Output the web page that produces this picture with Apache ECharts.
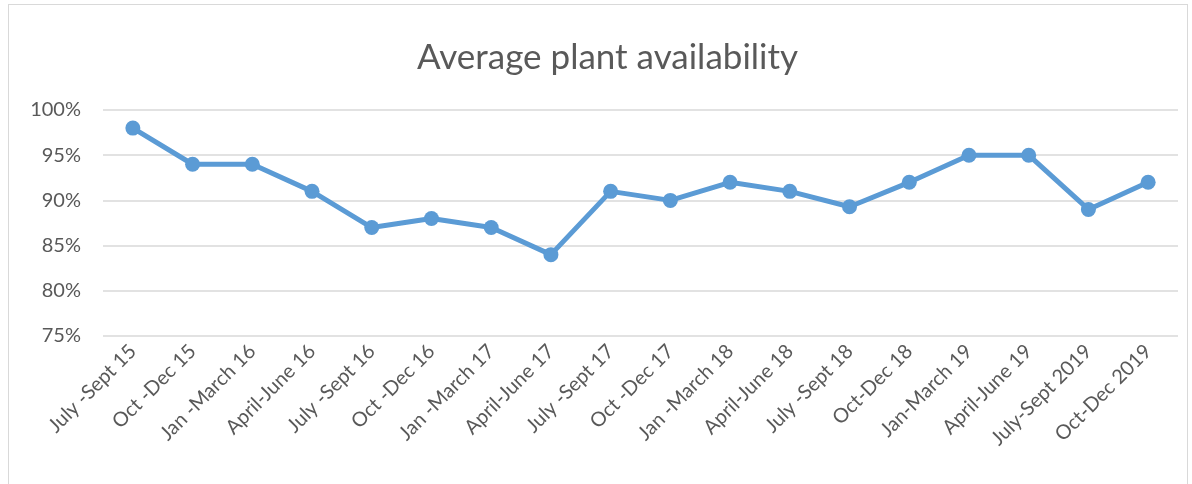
<!DOCTYPE html>
<html>
<head>
<meta charset="utf-8">
<script src="https://cdn.jsdelivr.net/npm/echarts@6/dist/echarts.min.js"></script>
<style>
  html, body { margin: 0; padding: 0; background: #fff; }
  #main { position: absolute; left: 8px; top: 4px; width: 1180px; height: 490px; border: 1px solid #d9d9d9; box-sizing: border-box; }
</style>
</head>
<body>
<div id="main"></div>
<script>
// 季度标签
var quarters = ['July -Sept 15', 'Oct -Dec 15', 'Jan -March 16', 'April-June 16', 'July -Sept 16',
    'Oct -Dec 16', 'Jan -March 17', 'April-June 17', 'July -Sept 17', 'Oct -Dec 17',
    'Jan -March 18', 'April-June 18', 'July -Sept 18', 'Oct-Dec 18', 'Jan-March 19',
    'April-June 19', 'July-Sept 2019', 'Oct-Dec 2019'];
// 平均可用率 (%)
var availability = [98, 94, 94, 91, 87, 88, 87, 84, 91, 90, 92, 91, 89.3, 92, 95, 95, 89, 92];

var myChart = echarts.init(document.getElementById('main'));
var option = {
    animation: false,
    title: {
        text: 'Average plant availability',
        left: 403,
        top: 30,
        textStyle: { color: '#595959', fontSize: 35, fontWeight: 'normal', fontFamily: 'Lato' }
    },
    grid: { left: 94, right: 9, top: 105, bottom: 157 },
    xAxis: {
        type: 'category',
        data: quarters,
        boundaryGap: true,
        axisLine: { show: false },
        axisTick: { show: false },
        axisLabel: {
            rotate: 45, interval: 0, margin: 12,
            color: '#595959', fontSize: 20, fontFamily: 'Lato'
        }
    },
    yAxis: {
        type: 'value',
        min: 75, max: 100, interval: 5,
        axisLabel: {
            formatter: '{value}%', margin: 22,
            color: '#595959', fontSize: 20, fontFamily: 'Lato'
        },
        splitLine: { lineStyle: { color: '#d9d9d9', width: 1.5 } }
    },
    series: [{
        type: 'line',
        data: availability,
        symbol: 'circle',
        symbolSize: 15,
        lineStyle: { color: '#5b9bd5', width: 5 },
        itemStyle: { color: '#5b9bd5' }
    }]
};
myChart.setOption(option);
</script>
</body>
</html>
